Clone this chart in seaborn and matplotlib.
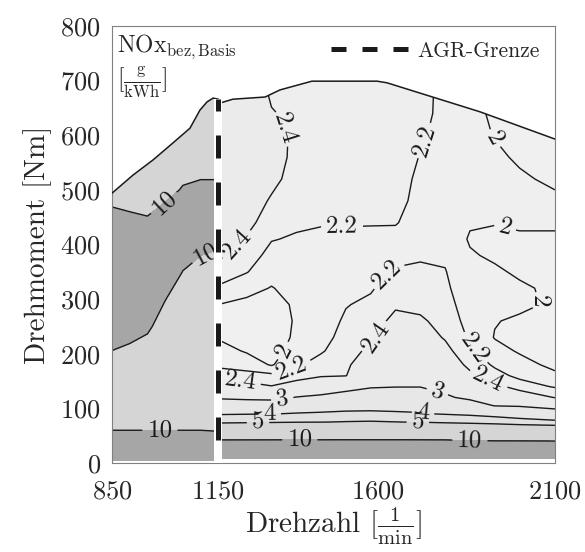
import numpy as np
import matplotlib
matplotlib.use("Agg")
import matplotlib.pyplot as plt
from matplotlib.patches import Polygon
from matplotlib.lines import Line2D
import seaborn as sns

# ---------------- data ----------------
# full-load curve (engine operating envelope)
full_speed = [850, 909, 966, 1022, 1070, 1098, 1118, 1135, 1150, 1160, 1191, 1282, 1324, 1414, 1598, 1626, 1888, 2100]
full_torque = [494, 527, 555, 586, 613, 646, 661, 668, 666, 660, 666, 670, 683, 699, 699, 696, 643, 593]

# EGR limit speed
agr_speed = 1150
agr_torque = [42, 666]

# left part of the map (without EGR), NOx per speed column
left_speed = [850, 900, 950, 1000, 1050, 1100, 1150]
left_torque = [5, 30, 50, 70, 100, 150, 200, 250, 300, 350, 400, 450, 500, 550, 600, 650, 700]
nox_l850 = [14, 12, 10.8, 9.2, 8.5, 8.8, 9.8, 11.5, 12.5, 12.5, 11.8, 10.6, 9.0, 8.5, 8.5, 8.5, 8.5]
nox_l900 = [14, 12, 10.8, 9.2, 8.5, 8.6, 9.4, 11.0, 12.3, 12.5, 11.8, 10.3, 8.8, 8.5, 8.5, 8.5, 8.5]
nox_l950 = [14, 12, 10.8, 9.2, 8.5, 8.5, 9.2, 10.3, 12.0, 12.5, 11.5, 10.05, 8.8, 8.5, 8.5, 8.5, 8.5]
nox_l1000 = [14, 12, 10.8, 9.2, 8.4, 8.3, 8.6, 9.2, 10.05, 11.5, 12.0, 11.0, 9.2, 8.5, 8.5, 8.5, 8.5]
nox_l1050 = [14, 12, 10.8, 9.2, 8.4, 8.2, 8.3, 8.6, 9.1, 9.95, 11.2, 11.5, 10.2, 9.0, 8.5, 8.5, 8.5]
nox_l1100 = [14, 12, 10.8, 9.2, 8.4, 8.2, 8.2, 8.4, 8.8, 9.3, 10.5, 11.5, 10.6, 9.0, 8.5, 8.3, 8.3]
nox_l1150 = [14, 12, 10.6, 9.1, 8.4, 8.2, 8.2, 8.3, 8.6, 9.1, 10.2, 11.5, 10.6, 9.0, 8.5, 8.3, 8.3]

# right part of the map (with EGR), NOx per speed column
right_speed = [1160, 1230, 1300, 1370, 1440, 1510, 1580, 1650, 1720, 1790, 1860, 1930, 2000, 2100]
right_torque = [8, 40, 60, 75, 90, 105, 120, 140, 160, 180, 205, 230, 260, 290, 320, 350,
                380, 410, 440, 480, 520, 560, 600, 640, 680, 710]
nox_r1160 = [20, 10.4, 6.9, 4.76, 3.93, 3.37, 2.92, 2.59, 2.29, 2.155, 2.07, 1.97, 1.92, 1.99, 2.16, 2.30,
             2.42, 2.5, 2.55, 2.6, 2.65, 2.7, 2.75, 2.75, 2.7, 2.7]
nox_r1230 = [20, 10.4, 7.0, 4.82, 3.96, 3.35, 2.87, 2.49, 2.26, 2.12, 1.98, 1.92, 1.88, 1.95, 2.065, 2.21,
             2.29, 2.38, 2.47, 2.55, 2.6, 2.65, 2.7, 2.7, 2.65, 2.6]
nox_r1300 = [20, 10.4, 7.1, 4.88, 3.98, 3.35, 2.84, 2.41, 2.25, 1.98, 1.9, 1.85, 1.85, 1.9, 1.99, 2.07,
             2.14, 2.21, 2.28, 2.37, 2.47, 2.52, 2.5, 2.42, 2.35, 2.3]
nox_r1370 = [20, 10.4, 7.2, 4.95, 4.05, 3.53, 3.02, 2.56, 2.27, 2.17, 2.1, 2.05, 2.03, 2.04, 2.07, 2.1,
             2.14, 2.18, 2.23, 2.27, 2.3, 2.33, 2.35, 2.33, 2.3, 2.28]
nox_r1440 = [20, 10.4, 7.2, 4.98, 4.1, 3.6, 3.1, 2.69, 2.37, 2.28, 2.18, 2.13, 2.1, 2.08, 2.07, 2.09,
             2.12, 2.17, 2.21, 2.26, 2.3, 2.32, 2.33, 2.33, 2.32, 2.3]
nox_r1510 = [20, 10.4, 7.3, 5.05, 4.15, 3.7, 3.25, 2.8, 2.39, 2.35, 2.31, 2.27, 2.23, 2.19, 2.16, 2.15,
             2.15, 2.17, 2.21, 2.26, 2.3, 2.32, 2.33, 2.33, 2.32, 2.3]
nox_r1580 = [20, 10.4, 7.3, 5.1, 4.15, 3.75, 3.35, 2.95, 2.75, 2.6, 2.45, 2.36, 2.3, 2.24, 2.18, 2.14,
             2.13, 2.16, 2.21, 2.26, 2.3, 2.32, 2.33, 2.33, 2.32, 2.3]
nox_r1650 = [20, 10.4, 7.3, 5.02, 4.1, 3.75, 3.4, 2.98, 2.85, 2.75, 2.65, 2.56, 2.46, 2.37, 2.3, 2.22,
             2.15, 2.15, 2.21, 2.27, 2.3, 2.32, 2.33, 2.33, 2.32, 2.3]
nox_r1720 = [20, 10.4, 7.2, 4.95, 4.05, 3.75, 3.4, 2.98, 2.85, 2.74, 2.62, 2.52, 2.43, 2.35, 2.28, 2.23,
             2.18, 2.15, 2.13, 2.13, 2.15, 2.19, 2.24, 2.28, 2.28, 2.27]
nox_r1790 = [20, 10.4, 7.0, 4.8, 3.95, 3.5, 3.08, 2.85, 2.72, 2.6, 2.47, 2.38, 2.33, 2.28, 2.24, 2.21,
             2.17, 2.14, 2.12, 2.1, 2.09, 2.09, 2.1, 2.12, 2.13, 2.13]
nox_r1860 = [20, 10.2, 6.7, 4.7, 3.85, 3.3, 2.88, 2.66, 2.46, 2.33, 2.24, 2.17, 2.12, 2.09, 2.06, 2.04,
             2.02, 1.98, 2.02, 2.05, 2.07, 2.08, 2.08, 2.07, 2.06, 2.05]
nox_r1930 = [20, 10.1, 6.6, 4.55, 3.7, 2.98, 2.78, 2.47, 2.27, 2.17, 2.07, 1.99, 2.01, 2.06, 2.06, 2.03,
             1.97, 1.95, 2.01, 2.06, 2.07, 2.04, 1.99, 1.96, 1.95, 1.95]
nox_r2000 = [20, 10.1, 6.3, 4.4, 3.5, 2.95, 2.58, 2.3, 2.15, 2.07, 1.98, 1.93, 1.97, 2.04, 2.03, 1.97,
             1.93, 1.97, 2.03, 2.07, 2.03, 1.97, 1.93, 1.92, 1.92, 1.92]
nox_r2100 = [20, 10.05, 6.2, 4.2, 3.3, 2.8, 2.39, 2.18, 2.04, 1.95, 1.9, 1.9, 1.93, 1.97, 1.96, 1.92,
             1.92, 1.97, 2.03, 2.04, 1.96, 1.92, 1.9, 1.9, 1.9, 1.9]

fill_levels = [0, 2, 2.2, 2.4, 3, 4, 5, 10, 100]
fill_colors = ['#f0f0f0', '#efefef', '#eeeeee', '#ebebeb', '#e7e7e7', '#e1e1e1', '#d5d5d5', '#a6a6a6']
line_levels = [2, 2.2, 2.4, 3, 4, 5, 10]

x_ticks = [850, 1150, 1600, 2100]
y_ticks = [0, 100, 200, 300, 400, 500, 600, 700, 800]

# label positions (layout)
right_label_pos = [(1330, 610), (1197, 403), (1499, 434), (1753, 586), (1931, 595), (1959, 430),
                   (2072, 298), (1344, 203), (1361, 165), (1620, 348), (1874, 211), (1211, 148),
                   (1592, 231), (1908, 148), (1330, 119), (1770, 134), (1295, 90), (1728, 93),
                   (1262, 72), (1713, 79), (1380, 42), (1860, 42)]
left_label_pos = [(994, 478), (1118, 380), (985, 60)]

# ---------------- style ----------------
sns.set_theme(style="white")
plt.rcParams['font.family'] = ['cmr10', 'DejaVu Serif']
plt.rcParams['mathtext.fontset'] = 'cm'
plt.rcParams['axes.formatter.use_mathtext'] = True
plt.rcParams['axes.unicode_minus'] = False

fig = plt.figure(figsize=(5.85, 5.52), dpi=100)
ax = fig.add_axes([0.1915, 0.1612, 0.7572, 0.7917])

Zl = np.array([nox_l850, nox_l900, nox_l950, nox_l1000, nox_l1050, nox_l1100, nox_l1150]).T
Zr = np.array([nox_r1160, nox_r1230, nox_r1300, nox_r1370, nox_r1440, nox_r1510, nox_r1580,
               nox_r1650, nox_r1720, nox_r1790, nox_r1860, nox_r1930, nox_r2000, nox_r2100]).T

env = [(850, 0)] + list(zip(full_speed, full_torque)) + [(2100, 0)]
clip = Polygon(env, closed=True, transform=ax.transData)

cfl = ax.contourf(left_speed, left_torque, Zl, levels=fill_levels, colors=fill_colors)
cfr = ax.contourf(right_speed, right_torque, Zr, levels=fill_levels, colors=fill_colors)
csl = ax.contour(left_speed, left_torque, Zl, levels=line_levels, colors='k', linewidths=1.0)
csr = ax.contour(right_speed, right_torque, Zr, levels=line_levels, colors='k', linewidths=1.0)
for c in (cfl, cfr, csl, csr):
    c.set_clip_path(clip)

fmt = lambda v: f"{v:g}"
ax.clabel(csr, manual=right_label_pos, inline=True, fmt=fmt, fontsize=18)
ax.clabel(csl, manual=left_label_pos, inline=True, fmt=fmt, fontsize=18)

ax.plot(full_speed, full_torque, color='k', lw=1.1, zorder=5)

# EGR limit: white band with black dashes
ax.plot([agr_speed, agr_speed], [0, agr_torque[1]], color='white', lw=5.8, zorder=6,
        solid_capstyle='butt')
ax.plot([agr_speed, agr_speed], agr_torque, color='k', lw=3.6, dashes=(4.6, 4.8), zorder=7,
        dash_capstyle='butt')

ax.set_xlim(850, 2100)
ax.set_ylim(0, 800)
ax.set_xticks(x_ticks)
ax.set_yticks(y_ticks)
ax.tick_params(axis='both', length=0, labelsize=19)
ax.tick_params(axis='x', pad=12)
ax.tick_params(axis='y', pad=8)
for s in ax.spines.values():
    s.set_color('#808080')
    s.set_linewidth(0.8)

ax.set_xlabel(r'Drehzahl $[\frac{1}{\mathrm{min}}]$', fontsize=21, labelpad=2)
ax.set_ylabel('Drehmoment [Nm]', fontsize=21, labelpad=6)

ax.text(0.012, 0.985, r'NOx$_{\mathrm{bez,Basis}}$', transform=ax.transAxes, fontsize=17,
        va='top', ha='left', zorder=8)
ax.text(0.012, 0.912, r'$[\frac{\mathrm{g}}{\mathrm{kWh}}]$', transform=ax.transAxes, fontsize=17,
        va='top', ha='left', zorder=8)

handle = Line2D([], [], color='k', lw=3.6, dashes=(3.0, 3.2), dash_capstyle='butt')
ax.legend([handle], ['AGR-Grenze'], loc='upper right', frameon=False, fontsize=15.5,
          handlelength=3.6, handletextpad=0.4, borderaxespad=0.3)

fig.savefig('out.png', dpi=100)
